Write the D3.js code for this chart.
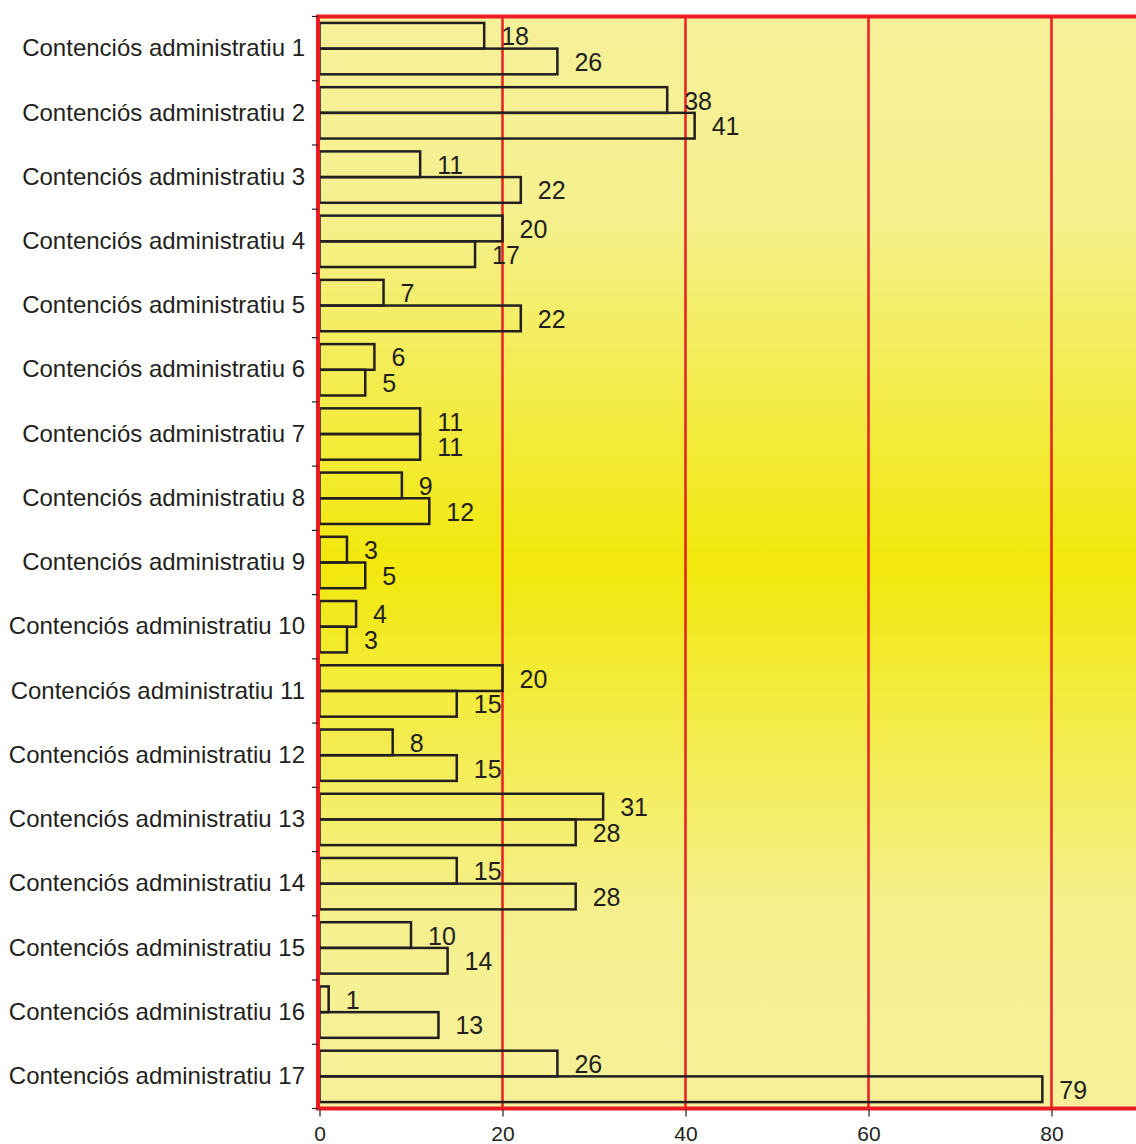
<!DOCTYPE html>
<html>
<head>
<meta charset="utf-8">
<script src="https://cdn.jsdelivr.net/npm/d3@7"></script>
<style>
  body { margin: 0; background: #fff; }
  svg { display: block; font-family: "Liberation Sans", Arial, sans-serif; }
</style>
</head>
<body>
<svg id="chart" width="1136" height="1144"></svg>
<script>
// categories and the two series
var categories = d3.range(1, 18).map(function(i) { return "Contenciós administratiu " + i; });
var seriesA = [18, 38, 11, 20, 7, 6, 11, 9, 3, 4, 20, 8, 31, 15, 10, 1, 26];
var seriesB = [26, 41, 22, 17, 22, 5, 11, 12, 5, 3, 15, 15, 28, 28, 14, 13, 79];
var xTicks = [0, 20, 40, 60, 80];

var ink = "#231f20";
var red = "#ed1c24";

var svg = d3.select("#chart");

var plotLeft = 318, plotTop = 16.5, plotBottom = 1108.5;

// x goes past the right edge of the window, like the original
var x = d3.scaleLinear().domain([0, 90]).range([319.5, 319.5 + 9.15 * 90]);

// one band per category (tick marks sit on the band edges)
var yOuter = d3.scaleBand().domain(categories).range([plotTop, plotBottom]);
var pad = yOuter.step() * 0.1;
var ySub = d3.scaleBand().domain(["a", "b"]).range([0, yOuter.step() - 2 * pad]);

var rows = categories.map(function(c, i) {
  return { cat: c, vals: [{ key: "a", v: seriesA[i] }, { key: "b", v: seriesB[i] }] };
});

// background gradient
var grad = svg.append("defs").append("linearGradient")
  .attr("id", "bg").attr("x1", 0).attr("y1", 0).attr("x2", 0).attr("y2", 1);
grad.append("stop").attr("offset", "0%").attr("stop-color", "#f6f199");
grad.append("stop").attr("offset", "18%").attr("stop-color", "#f5f08e");
grad.append("stop").attr("offset", "50%").attr("stop-color", "#f2e80c");
grad.append("stop").attr("offset", "82%").attr("stop-color", "#f5f08e");
grad.append("stop").attr("offset", "100%").attr("stop-color", "#f6f199");

svg.append("rect")
  .attr("x", plotLeft).attr("y", plotTop)
  .attr("width", x.range()[1] - plotLeft).attr("height", plotBottom - plotTop)
  .attr("fill", "url(#bg)");

// red gridlines
svg.append("g").selectAll("line")
  .data(xTicks.filter(function(d) { return d > 0; }))
  .enter().append("line")
  .attr("x1", d => x(d)).attr("x2", d => x(d))
  .attr("y1", plotTop).attr("y2", plotBottom)
  .attr("stroke", red).attr("stroke-width", 2.5);

// bars, outline only
var groups = svg.append("g").selectAll("g")
  .data(rows)
  .enter().append("g")
  .attr("transform", d => "translate(0," + (yOuter(d.cat) + pad) + ")");

groups.selectAll("rect")
  .data(d => d.vals)
  .enter().append("rect")
  .attr("x", x(0))
  .attr("y", d => ySub(d.key))
  .attr("width", d => x(d.v) - x(0))
  .attr("height", ySub.bandwidth())
  .attr("fill", "none")
  .attr("stroke", ink)
  .attr("stroke-width", 2.5);

groups.selectAll("text")
  .data(d => d.vals)
  .enter().append("text")
  .attr("x", d => x(d.v) + 17)
  .attr("y", d => ySub(d.key) + ySub.bandwidth() / 2)
  .attr("dy", "0.38em")
  .attr("font-size", 25)
  .attr("fill", ink)
  .text(d => d.v);

// plot border
svg.append("rect")
  .attr("x", plotLeft).attr("y", plotTop)
  .attr("width", x.range()[1] + 20 - plotLeft).attr("height", plotBottom - plotTop)
  .attr("fill", "none")
  .attr("stroke", red).attr("stroke-width", 4);

// y axis: labels at band centres, ticks at band edges
var yAxis = svg.append("g")
  .attr("transform", "translate(" + plotLeft + ",0)")
  .call(d3.axisLeft(yOuter).tickSize(0).tickPadding(13));
yAxis.select(".domain").remove();
yAxis.selectAll("text")
  .attr("font-size", 24)
  .attr("font-family", "Liberation Sans, Arial, sans-serif")
  .attr("fill", ink);

var edges = categories.map(d => yOuter(d)).concat([plotBottom]);
svg.append("g").selectAll("line")
  .data(edges)
  .enter().append("line")
  .attr("x1", plotLeft - 6).attr("x2", plotLeft)
  .attr("y1", d => d).attr("y2", d => d)
  .attr("stroke", ink).attr("stroke-width", 1.2);

// x axis
var xAxis = svg.append("g")
  .attr("transform", "translate(0," + (plotBottom + 1) + ")")
  .call(d3.axisBottom(x).tickValues(xTicks).tickSize(7).tickPadding(10));
xAxis.select(".domain").remove();
xAxis.selectAll("line").attr("stroke", ink).attr("stroke-width", 1.2);
xAxis.selectAll("text")
  .attr("font-size", 21)
  .attr("font-family", "Liberation Sans, Arial, sans-serif")
  .attr("fill", ink);
</script>
</body>
</html>
